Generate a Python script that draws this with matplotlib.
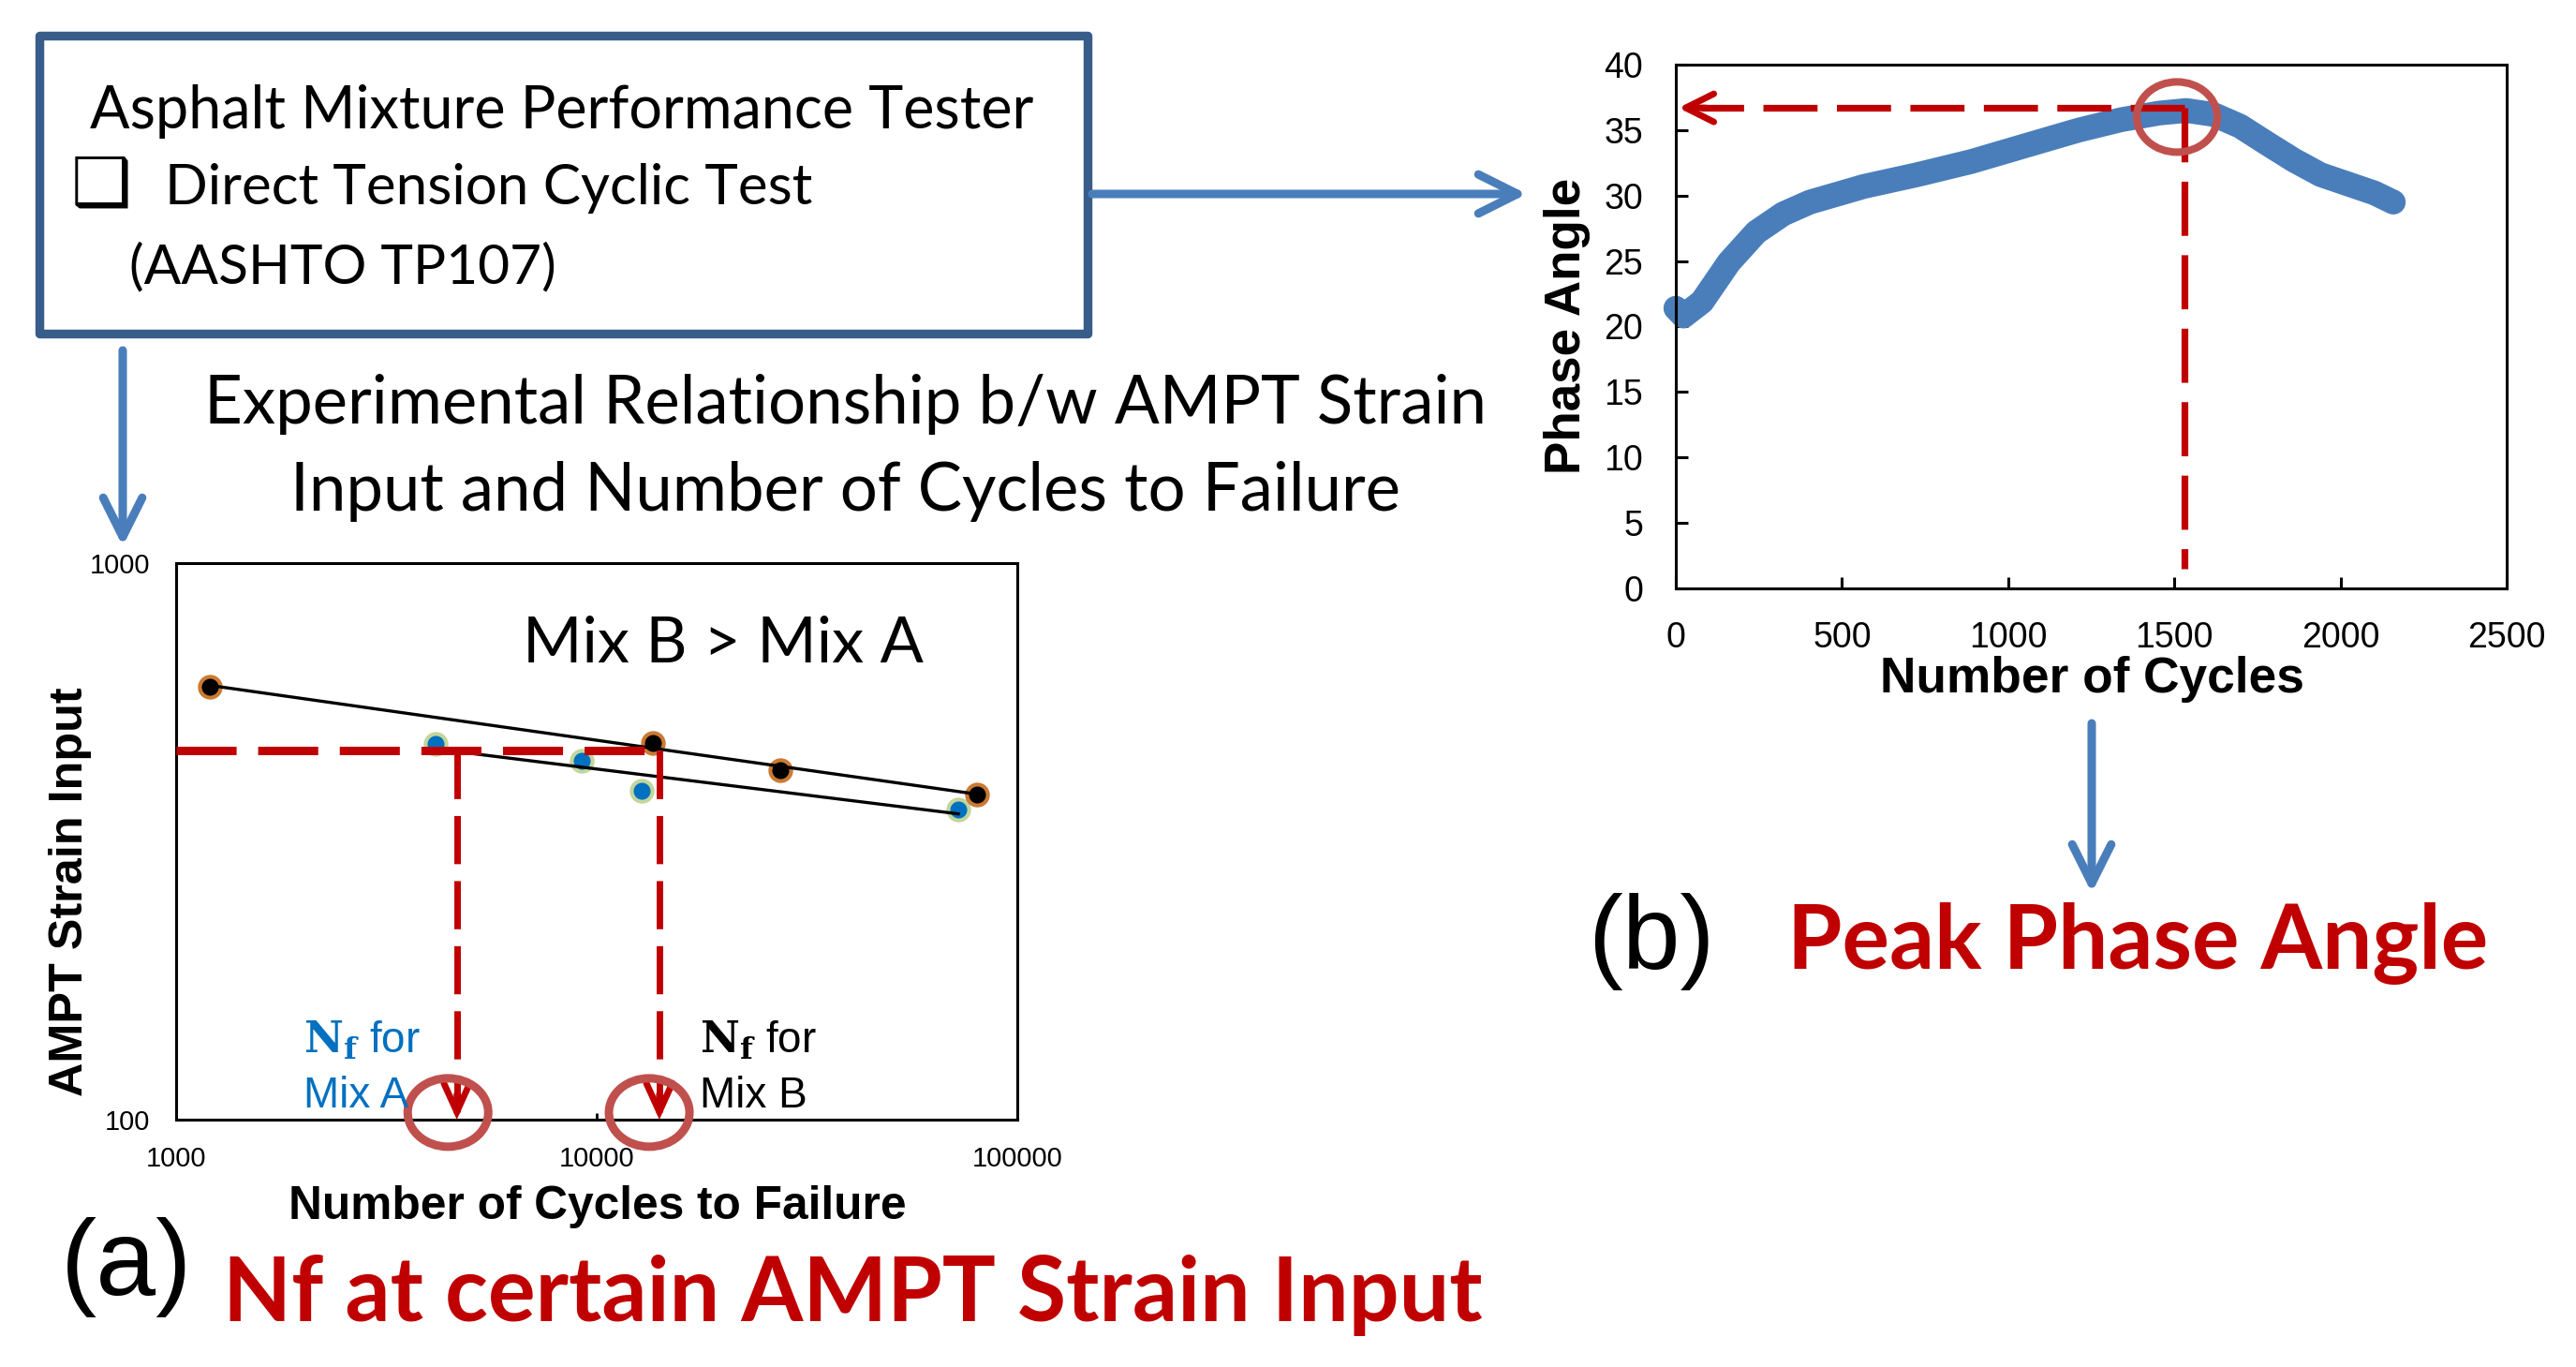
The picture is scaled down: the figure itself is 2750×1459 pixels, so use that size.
import numpy as np
import matplotlib
matplotlib.use('Agg')
import matplotlib.pyplot as plt
from matplotlib.patches import Rectangle, Ellipse, FancyArrowPatch
from matplotlib.transforms import ScaledTranslation
from matplotlib.ticker import FixedLocator, FixedFormatter, NullLocator

W, H, DPI = 2750, 1459, 100

# ---------------- data: panel (a) ----------------
mixA_cycles = [4140, 9200, 12800, 72400]
mixA_strain = [473, 442, 390, 361]
mixB_cycles = [1200, 13600, 27300, 80200]
mixB_strain = [600, 475, 425, 384]
target_strain = 461
nf_mixA = 4650
nf_mixB = 14090
ring_a_cycles = [4430, 13330]
ring_a_strain = 103
a_xticks = [1000, 10000, 100000]
a_xticklabels = ['1000', '10000', '100000']
a_yticks = [100, 1000]
a_yticklabels = ['100', '1000']

# ---------------- data: panel (b) ----------------
cycles = [0, 23, 79, 160, 242, 323, 403, 566, 727, 889, 1050, 1212, 1341,
          1454, 1536, 1617, 1698, 1778, 1860, 1940, 2021, 2102, 2159]
phase = [21.4, 20.8, 21.9, 24.9, 27.2, 28.6, 29.5, 30.7, 31.6, 32.6, 33.8,
         35.0, 35.8, 36.3, 36.5, 36.2, 35.3, 34.0, 32.7, 31.6, 30.9, 30.2, 29.5]
peak_cycle = 1530
peak_phase = 36.7
ring_b = (1508, 36.0)
b_xticks = [0, 500, 1000, 1500, 2000, 2500]
b_yticks = [0, 5, 10, 15, 20, 25, 30, 35, 40]

RED = '#C00000'
RING = '#C0504D'
BLUE = '#4A7EBB'
CAL = ['Lato', 'DejaVu Sans']
ARIAL = ['Liberation Sans', 'DejaVu Sans']

fig = plt.figure(figsize=(W / DPI, H / DPI), dpi=DPI)
renderer = fig.canvas.get_renderer()


def ptext(x, y, s, width=None, height=None, size=20, **kw):
    t = fig.text(x / W, 1 - y / H, s, fontsize=size, **kw)
    if width is not None or height is not None:
        bb = t.get_window_extent(renderer)
        if width is not None:
            t.set_fontsize(size * width / bb.width)
        else:
            t.set_fontsize(size * height / bb.height)
    return t


def farrow(x0, y0, x1, y1, color, lw, hl, hw):
    a = FancyArrowPatch((x0 / W, 1 - y0 / H), (x1 / W, 1 - y1 / H),
                        transform=fig.transFigure,
                        arrowstyle=f'->,head_length={hl},head_width={hw}',
                        mutation_scale=1, lw=lw, color=color,
                        shrinkA=0, shrinkB=0, capstyle='round', joinstyle='round')
    fig.add_artist(a)
    return a

# ---------------- box ----------------
fig.add_artist(Rectangle((42 / W, 1 - 356 / H), (1161 - 42) / W, (356 - 38) / H,
                         transform=fig.transFigure, fill=False,
                         ec='#385D8A', lw=6.8, joinstyle='round'))
t1 = ptext(96, 137, 'Asphalt Mixture Performance Tester', width=1010,
           family=CAL, ha='left', va='baseline')
bs = t1.get_fontsize()
ptext(76, 219, '\u2751', size=bs * 1.15, family=['DejaVu Sans'], ha='left', va='baseline')
ptext(176, 218, 'Direct Tension Cyclic Test', width=693, family=CAL, ha='left', va='baseline')
ptext(138, 302, '(AASHTO TP107)', width=455, family=CAL, ha='left', va='baseline')

# ---------------- title ----------------
tt = ptext(903, 452, 'Experimental Relationship b/w AMPT Strain', width=1373,
           family=CAL, ha='center', va='baseline')
ptext(903, 545, 'Input and Number of Cycles to Failure', size=tt.get_fontsize(),
      family=CAL, ha='center', va='baseline')

# ---------------- blue arrows ----------------
farrow(1166, 207, 1630, 207, BLUE, 6.5, 30, 15)
farrow(131, 374, 131, 583, BLUE, 6.5, 30, 15)
farrow(2233, 772, 2233, 953, BLUE, 6.5, 30, 15)

# ---------------- panel (a) ----------------
ax_a = fig.add_axes([188 / W, 1 - 1195 / H, 898 / W, 594 / H])
ax_a.set_xscale('log')
ax_a.set_yscale('log')
ax_a.set_xlim(1000, 100000)
ax_a.set_ylim(100, 1000)
ax_a.plot(mixA_cycles, mixA_strain, 'o', ms=16, mfc='#0070C0', mec='#C3D69B',
          mew=3, zorder=3)
ax_a.plot(mixB_cycles, mixB_strain, 'o', ms=16, mfc='black', mec='#CC7A33',
          mew=3, zorder=3)
for cx, cy in [(mixA_cycles, mixA_strain), (mixB_cycles, mixB_strain)]:
    lx, ly = np.log10(cx), np.log10(cy)
    k, b = np.polyfit(lx, ly, 1)
    xe = np.array([min(lx), max(lx)])
    ax_a.plot(10 ** xe, 10 ** (k * xe + b), color='black', lw=2.4, zorder=4)

ax_a.plot([1000, nf_mixB], [target_strain, target_strain], color=RED, lw=6.5,
          dashes=(7.1, 2.55), dash_capstyle='butt', zorder=5)
for nf in [nf_mixA, nf_mixB]:
    ax_a.plot([nf, nf], [target_strain, 103], color=RED, lw=5,
              dashes=(7.4, 2.6), dash_capstyle='butt', zorder=5)
    ax_a.annotate('', xy=(nf, 100), xytext=(nf, 111), annotation_clip=False,
                  arrowprops=dict(arrowstyle='->,head_length=22,head_width=10',
                                  mutation_scale=1, lw=5, color=RED,
                                  shrinkA=0, shrinkB=0, joinstyle='miter'))

ax_a.xaxis.set_major_locator(FixedLocator(a_xticks))
ax_a.xaxis.set_major_formatter(FixedFormatter(a_xticklabels))
ax_a.yaxis.set_major_locator(FixedLocator(a_yticks))
ax_a.yaxis.set_major_formatter(FixedFormatter(a_yticklabels))
ax_a.xaxis.set_minor_locator(NullLocator())
ax_a.yaxis.set_minor_locator(NullLocator())
ax_a.tick_params(direction='in', length=5, width=2, labelsize=21, pad=20)
for lab in ax_a.get_xticklabels() + ax_a.get_yticklabels():
    lab.set_family(ARIAL)
for sp in ax_a.spines.values():
    sp.set_linewidth(2.2)

for rc in ring_a_cycles:
    e = Ellipse((0, 0), 86, 73, fill=False, ec=RING, lw=6.5,
                transform=ScaledTranslation(rc, ring_a_strain, ax_a.transData))
    fig.add_artist(e)

ptext(558, 707, 'Mix B > Mix A', width=428, family=CAL, ha='left', va='baseline')
ptext(324, 1124, r'$\mathbf{N_f}$ for', size=33, family=ARIAL, color='#0070C0',
      math_fontfamily='dejavuserif', ha='left', va='baseline')
ptext(324, 1182, 'Mix A', size=33, family=ARIAL, color='#0070C0', ha='left', va='baseline')
ptext(747, 1124, r'$\mathbf{N_f}$ for', size=33, family=ARIAL, color='black',
      math_fontfamily='dejavuserif', ha='left', va='baseline')
ptext(747, 1182, 'Mix B', size=33, family=ARIAL, color='black', ha='left', va='baseline')

ptext(75, 952, 'AMPT Strain Input', height=437, family=ARIAL, weight='bold',
      rotation=90, ha='center', va='center')
ptext(638, 1288, 'Number of Cycles to Failure', width=659, family=ARIAL,
      weight='bold', ha='center', va='center')

# ---------------- panel (b) ----------------
ax_b = fig.add_axes([1789 / W, 1 - 628 / H, 887 / W, 559 / H])
ax_b.set_xlim(0, 2500)
ax_b.set_ylim(0, 40)
ax_b.plot(cycles, phase, color=BLUE, lw=19, solid_joinstyle='round',
          solid_capstyle='round', clip_on=False, zorder=2)
ax_b.plot([peak_cycle, 75], [peak_phase, peak_phase], color=RED, lw=5.2,
          dashes=(8, 2.86), dash_capstyle='butt', zorder=4)
ax_b.plot([peak_cycle, peak_cycle], [peak_phase, 1.5], color=RED, lw=5.2,
          dashes=(8, 2.86), dash_capstyle='butt', zorder=4)
ax_b.annotate('', xy=(8, peak_phase), xytext=(90, peak_phase), annotation_clip=False,
              arrowprops=dict(arrowstyle='->,head_length=21.6,head_width=10.8',
                              mutation_scale=1, lw=5, color=RED,
                              shrinkA=0, shrinkB=0))
ax_b.xaxis.set_major_locator(FixedLocator(b_xticks))
ax_b.yaxis.set_major_locator(FixedLocator(b_yticks))
ax_b.tick_params(direction='in', length=9, width=2.2, labelsize=27, pad=25)
for lab in ax_b.get_xticklabels() + ax_b.get_yticklabels():
    lab.set_family(ARIAL)
for sp in ax_b.spines.values():
    sp.set_linewidth(2.2)
e = Ellipse((0, 0), 86, 75, fill=False, ec=RING, lw=5.8,
            transform=ScaledTranslation(ring_b[0], ring_b[1], ax_b.transData))
fig.add_artist(e)

ptext(1673, 348, 'Phase Angle', height=316, family=ARIAL, weight='bold',
      rotation=90, ha='center', va='center')
ptext(2233, 725, 'Number of Cycles', width=453, family=ARIAL, weight='bold',
      ha='center', va='center')

# ---------------- captions ----------------
ptext(65, 1382, '(a)', width=141, family=ARIAL, ha='left', va='baseline')
ptext(238, 1410, 'Nf at certain AMPT Strain Input', width=1345, family=CAL,
      weight='bold', color=RED, ha='left', va='baseline')
ptext(1695, 1034, '(b)', width=136, family=ARIAL, ha='left', va='baseline')
ptext(1908, 1034, 'Peak Phase Angle', width=748, family=CAL, weight='bold',
      color=RED, ha='left', va='baseline')

fig.savefig('out.png', dpi=DPI)
